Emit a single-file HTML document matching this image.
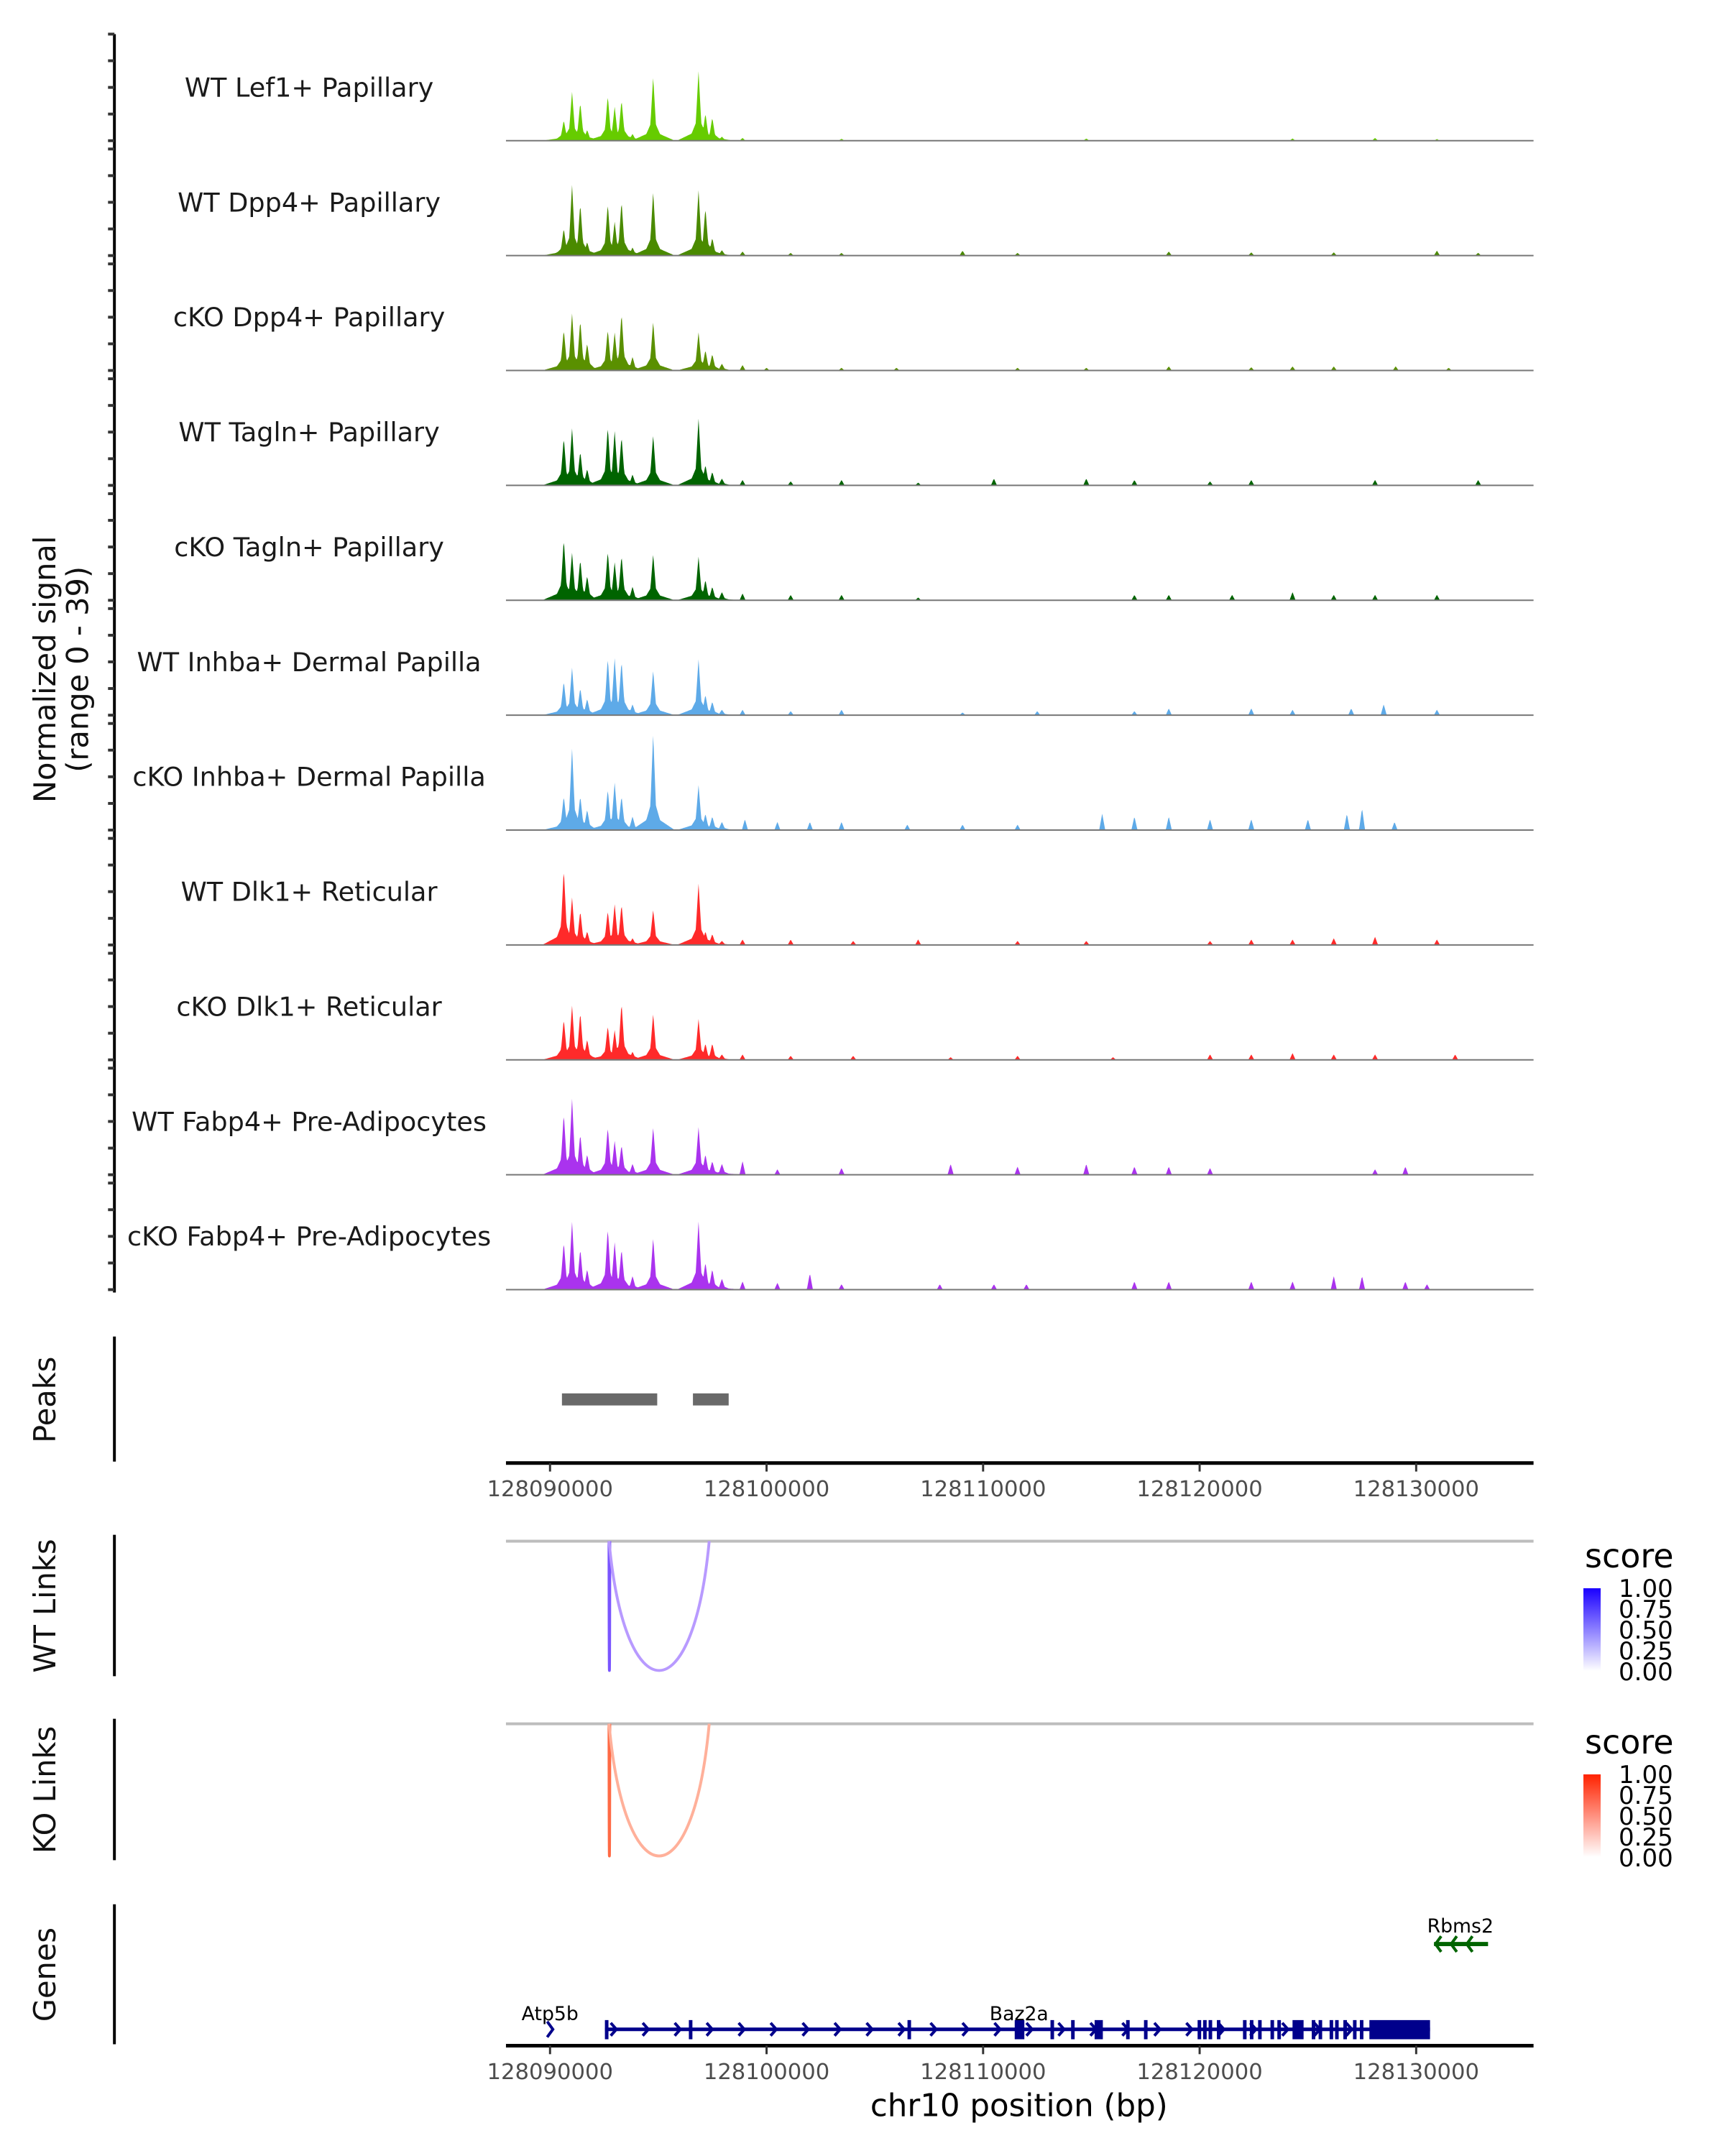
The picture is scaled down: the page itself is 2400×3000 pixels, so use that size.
<!DOCTYPE html>
<html><head><meta charset="utf-8"><style>
html,body{margin:0;padding:0;background:#fff;}
svg{display:block;font-family:"DejaVu Sans","Liberation Sans",sans-serif;}
</style></head><body>
<svg id="chart" width="2400" height="3000" viewBox="0 0 2400 3000" xmlns="http://www.w3.org/2000/svg">
<defs>
<linearGradient id="gBlue" x1="0" y1="1" x2="0" y2="0"><stop offset="0" stop-color="#ffffff"/><stop offset="1" stop-color="#1a00ff"/></linearGradient>
<linearGradient id="gRed" x1="0" y1="1" x2="0" y2="0"><stop offset="0" stop-color="#ffffff"/><stop offset="1" stop-color="#ff2200"/></linearGradient>
</defs>
<g id="main" transform="scale(0.9887)">
<g id="tracks"></g>
<text transform="translate(78,942) rotate(-90)" text-anchor="middle" font-size="42" fill="#111">Normalized signal</text>
<text transform="translate(124,942) rotate(-90)" text-anchor="middle" font-size="42" fill="#111">(range 0 - 39)</text>
<g id="peaks">
<line x1="161" y1="1881" x2="161" y2="2057" stroke="#000" stroke-width="4"/>
<text transform="translate(78,1970) rotate(-90)" text-anchor="middle" font-size="42" fill="#111">Peaks</text>
</g>
<g id="axis1"></g>
<g id="links">
<line x1="161" y1="2160" x2="161" y2="2359" stroke="#000" stroke-width="4"/>
<text transform="translate(78,2260) rotate(-90)" text-anchor="middle" font-size="42" fill="#111">WT Links</text>
<line x1="161" y1="2419" x2="161" y2="2618" stroke="#000" stroke-width="4"/>
<text transform="translate(78,2519) rotate(-90)" text-anchor="middle" font-size="42" fill="#111">KO Links</text>
</g>
<g id="genes">
<line x1="161" y1="2680" x2="161" y2="2877" stroke="#000" stroke-width="4"/>
<text transform="translate(78,2779) rotate(-90)" text-anchor="middle" font-size="42" fill="#111">Genes</text>
</g>
<g id="axis2"></g>
<text x="1434" y="2978" text-anchor="middle" font-size="44" fill="#000">chr10 position (bp)</text>
</g>
<g>
<text x="2205" y="2181" font-size="46" fill="#000">score</text>
<rect x="2203" y="2210" width="24" height="115" fill="url(#gBlue)"/>
<g font-size="34" fill="#000"><text x="2252" y="2222">1.00</text><text x="2252" y="2251">0.75</text><text x="2252" y="2280">0.50</text><text x="2252" y="2309">0.25</text><text x="2252" y="2338">0.00</text></g>
</g>
<g>
<text x="2205" y="2440" font-size="46" fill="#000">score</text>
<rect x="2203" y="2469" width="24" height="115" fill="url(#gRed)"/>
<g font-size="34" fill="#000"><text x="2252" y="2481">1.00</text><text x="2252" y="2510">0.75</text><text x="2252" y="2539">0.50</text><text x="2252" y="2568">0.25</text><text x="2252" y="2597">0.00</text></g>
</g>
</svg>
<script>
const trackNames = ["WT Lef1+ Papillary","WT Dpp4+ Papillary","cKO Dpp4+ Papillary","WT Tagln+ Papillary","cKO Tagln+ Papillary","WT Inhba+ Dermal Papilla","cKO Inhba+ Dermal Papilla","WT Dlk1+ Reticular","cKO Dlk1+ Reticular","WT Fabp4+ Pre-Adipocytes","cKO Fabp4+ Pre-Adipocytes"];
const trackColors = ["#66cc00","#4a8a00","#5a9000","#006400","#006400","#5eaae8","#5eaae8","#ff2a2a","#ff2a2a","#aa33ee","#aa33ee"];
const peakPositions = [128090635,128091016,128091397,128091715,128092667,128092985,128093302,128093810,128094763,128096858,128097176,128097493,128097938];
const peakValues = [
 [7.5,18,14,4,16.5,12.5,15,2.5,23.5,25.5,10,8.5,1.5],
 [10,26,19,5,19,12.5,20,3,23.5,24,17.5,6.5,2],
 [15,21,18.5,10,15,14,21,5,18,14,7.5,6,2.5],
 [17.5,21,12.5,6,21.5,20,18,4,18.5,24.5,7.5,5,2.5],
 [22.5,17.5,15,9,18,14,16.5,5,17,16,7.5,5,3],
 [12.5,17.5,10,6,21,21,20,4,16.5,20.5,7.5,5,2],
 [12.5,30,12.5,7.5,15,17.5,12.5,5,35.5,16.5,6,5,3],
 [28,17.5,12.5,5,12.5,15,15,2.5,13,22.5,5,4,1.5],
 [15,20,17.5,7.5,12.5,11,21,3,17,15,6,6,2],
 [22.5,28,15,7.5,17.5,12.5,11,4,17.5,17.5,7.5,5,4],
 [17.5,25,15,7.5,22.5,17.5,15,5,19,25,10,7.5,4]
];
const bgPeaks = [
 [[128098890,1],[128103462,0.7],[128114765,0.8],[128124290,0.8],[128128100,1],[128130958,0.6]],
 [[128098890,1.5],[128101113,1],[128103462,1],[128109050,1.8],[128111590,1],[128118575,1.5],[128122385,1.2],[128126195,1.2],[128130958,1.8],[128132863,1]],
 [[128098890,2],[128100000,1],[128103462,1],[128106000,1],[128111590,1],[128114765,1],[128118575,1.5],[128122385,1.2],[128124290,1.5],[128126195,1.5],[128129053,1.5],[128131500,1]],
 [[128098890,2],[128101113,1.5],[128103462,2],[128107000,1],[128110500,2.5],[128114765,2.5],[128116988,2],[128120480,1.5],[128122385,2],[128128100,2],[128132863,2]],
 [[128098890,2.5],[128101113,2],[128103462,2],[128107000,1],[128116988,2],[128118575,2],[128121500,2],[128124290,3],[128126195,2],[128128100,2],[128130958,2]],
 [[128098890,2],[128101113,1.5],[128103462,2],[128109050,1],[128112500,1.5],[128116988,1.5],[128118575,2.5],[128122385,2.5],[128124290,2],[128127000,2.5],[128128500,4],[128130958,2]],
 [[128099000,4],[128100500,3],[128102000,3],[128103462,3],[128106500,2],[128109050,2],[128111590,2],[128115500,6],[128116988,5],[128118575,5],[128120480,4],[128122385,4],[128125000,4],[128126800,6],[128127500,8],[128129000,3]],
 [[128098890,2],[128101113,2],[128104000,1.5],[128107000,2],[128111590,1.5],[128114765,1.5],[128120480,1.5],[128122385,2],[128124290,2],[128126195,2.5],[128128100,3],[128130958,2]],
 [[128098890,2],[128101113,1.5],[128104000,1.5],[128108500,1],[128111590,1.5],[128116000,1],[128120480,2],[128122385,2],[128124290,2.5],[128126195,2],[128128100,2],[128131800,2]],
 [[128098890,5],[128100500,2],[128103462,2.5],[128108500,4],[128111590,3],[128114765,4],[128116988,3],[128118575,3],[128120480,2.5],[128128100,2],[128129500,3]],
 [[128098890,3],[128100500,2.5],[128102000,6],[128103462,2],[128108000,2],[128110500,2],[128112000,2],[128116988,3],[128118575,3],[128122385,3],[128124290,3],[128126195,5],[128127500,5],[128129500,3],[128130500,2]]
];
const axisTicks = [128090000,128100000,128110000,128120000,128130000];
const peakRegions = [[128090550,128094950],[128096600,128098250]];
const linkStarts = [128092724,128092724];
const linkEnds = [128092760,128097351];
const linkScores = [1.0,0.5];
const baz2aExons = [128092600,128096477,128106574,128113178,128114130,128116670,128117496,128119972,128120226,128120480,128120861,128122068,128122385,128122766,128123338,128123655,128125243,128125560,128126068,128126322,128126703,128127148,128127465];
const baz2aBlocks = [[128111460,128111905],[128115150,128115530],[128124290,128124800],[128127840,128130640]];

const NS = "http://www.w3.org/2000/svg";
const X0 = 712, X1 = 2158, G0 = 128087965, G1 = 128135420;
function xs(g){ return X0 + (g - G0) * (X1 - X0) / (G1 - G0); }
function xinv(x){ return G0 + (x - X0) * (G1 - G0) / (X1 - X0); }
const YMAX = 39, TH = 150;
function mk(tag, attrs, parent){ const e = document.createElementNS(NS, tag); for (const k in attrs) e.setAttribute(k, attrs[k]); parent.appendChild(e); return e; }

const tracksG = document.getElementById("tracks");
mk("line", {x1:161,y1:48,x2:161,y2:1819,stroke:"#000","stroke-width":4}, tracksG);
trackNames.forEach((name, i) => {
  const base = 198 + i * 161.7;
  const g = mk("g", {}, tracksG);
  
  
  for (let k = 0; k <= 4; k++) mk("line", {x1:152,y1:base - k*37.5,x2:161,y2:base - k*37.5,stroke:"#333","stroke-width":4}, g);
  const lab = mk("text", {x:435,y:base - 62,"text-anchor":"middle","font-size":37,fill:"#1a1a1a"}, g);
  lab.textContent = name;
  
  
  let d = "M" + X0 + " " + base;
  for (let x = X0; x <= X1; x += 1) {
    const gp = xinv(x);
    let v = 0;
    peakPositions.forEach((p, j) => {
      const h = peakValues[i][j], dist = Math.abs(gp - p);
      if (dist < 170) v = Math.max(v, h * (1 - dist / 170));
      if (dist < 450) v = Math.max(v, h * 0.35 * (1 - dist / 450));
      if (dist < 1000) v = Math.max(v, h * 0.15 * (1 - dist / 1000));
    });
    bgPeaks[i].forEach(([p, h]) => { const dist = Math.abs(gp - p); if (dist < 140) v = Math.max(v, h * (1 - dist / 140)); });
    d += " L" + x + " " + (base - v / YMAX * TH).toFixed(1);
  }
  d += " L" + X1 + " " + base + " Z";
  const area = mk("path", {d:d, fill:trackColors[i]}, g);
  
  
  mk("line", {x1:X0,y1:base,x2:X1,y2:base,stroke:"#777","stroke-width":2}, g);
});

const peaksG = document.getElementById("peaks");
peakRegions.forEach(([a, b]) => {
  const r = mk("rect", {x:xs(a),y:1961,width:xs(b)-xs(a),height:17,fill:"#696969"}, peaksG);
  
  
});

function drawAxis(id, y){
  const g = document.getElementById(id);
  mk("line", {x1:X0,y1:y,x2:X1,y2:y,stroke:"#000","stroke-width":5}, g);
  axisTicks.forEach(t => {
    mk("line", {x1:xs(t),y1:y,x2:xs(t),y2:y+12,stroke:"#333","stroke-width":3}, g);
    const tx = mk("text", {x:xs(t),y:y+47,"text-anchor":"middle","font-size":31,fill:"#4d4d4d"}, g);
    tx.textContent = String(t);
    
    
  });
}
drawAxis("axis1", 2059);
drawAxis("axis2", 2879);

const linksG = document.getElementById("links");
[[2169, 2351, ["#7a55ff", "#b89aff"]], [2426, 2612, ["#ff6a45", "#ffb09a"]]].forEach(([top, bot, cols]) => {
  mk("line", {x1:X0,y1:top,x2:X1,y2:top,stroke:"#bdbdbd","stroke-width":4}, linksG);
  linkStarts.forEach((s, j) => {
    const a = xs(s), b = xs(linkEnds[j]);
    const cy = top + (bot - top) / 0.75;
    const col = linkScores[j] > 0.75 ? cols[0] : cols[1];
    const p = mk("path", {d:`M${a} ${top} C${a + (b-a)*0.16} ${cy}, ${b - (b-a)*0.16} ${cy}, ${b} ${top}`, fill:"none", stroke:col, "stroke-width":4}, linksG);
    
    
  });
});

const genesG = document.getElementById("genes");
const gy = 2856, navy = "#00008b";
const gStart = 128092540, gEnd = 128130640;
mk("line", {x1:xs(gStart),y1:gy,x2:xs(gEnd),y2:gy,stroke:navy,"stroke-width":5}, genesG);
for (let x = xs(gStart) + 12; x < xs(gEnd); x += 45) mk("path", {d:`M${x-4} ${gy-9} L${x+4} ${gy} L${x-4} ${gy+9}`, fill:"none", stroke:navy, "stroke-width":4}, genesG);
baz2aExons.forEach(e => mk("rect", {x:xs(e)-2,y:gy-13,width:5,height:27,fill:navy}, genesG));
baz2aBlocks.forEach(([a,b]) => mk("rect", {x:xs(a),y:gy-13,width:xs(b)-xs(a),height:27,fill:navy}, genesG));
mk("path", {d:`M${xs(128090000)-4} ${gy-11} L${xs(128090000)+4} ${gy} L${xs(128090000)-4} ${gy+11}`, fill:"none", stroke:navy, "stroke-width":4}, genesG);
const t1 = mk("text", {x:xs(128090000),y:2843,"text-anchor":"middle","font-size":27,fill:"#000"}, genesG); t1.textContent = "Atp5b";
const t2 = mk("text", {x:1434,y:2843,"text-anchor":"middle","font-size":27,fill:"#000"}, genesG); t2.textContent = "Baz2a";
const ry = 2736, green = "#006400";
mk("line", {x1:2018,y1:ry,x2:2094,y2:ry,stroke:green,"stroke-width":6}, genesG);
[2022, 2044, 2066].forEach(x => mk("path", {d:`M${x+6} ${ry-11} L${x-2} ${ry} L${x+6} ${ry+11}`, fill:"none", stroke:green, "stroke-width":4}, genesG));
const t3 = mk("text", {x:2055,y:2720,"text-anchor":"middle","font-size":27,fill:"#000"}, genesG); t3.textContent = "Rbms2";
</script>
</body></html>
